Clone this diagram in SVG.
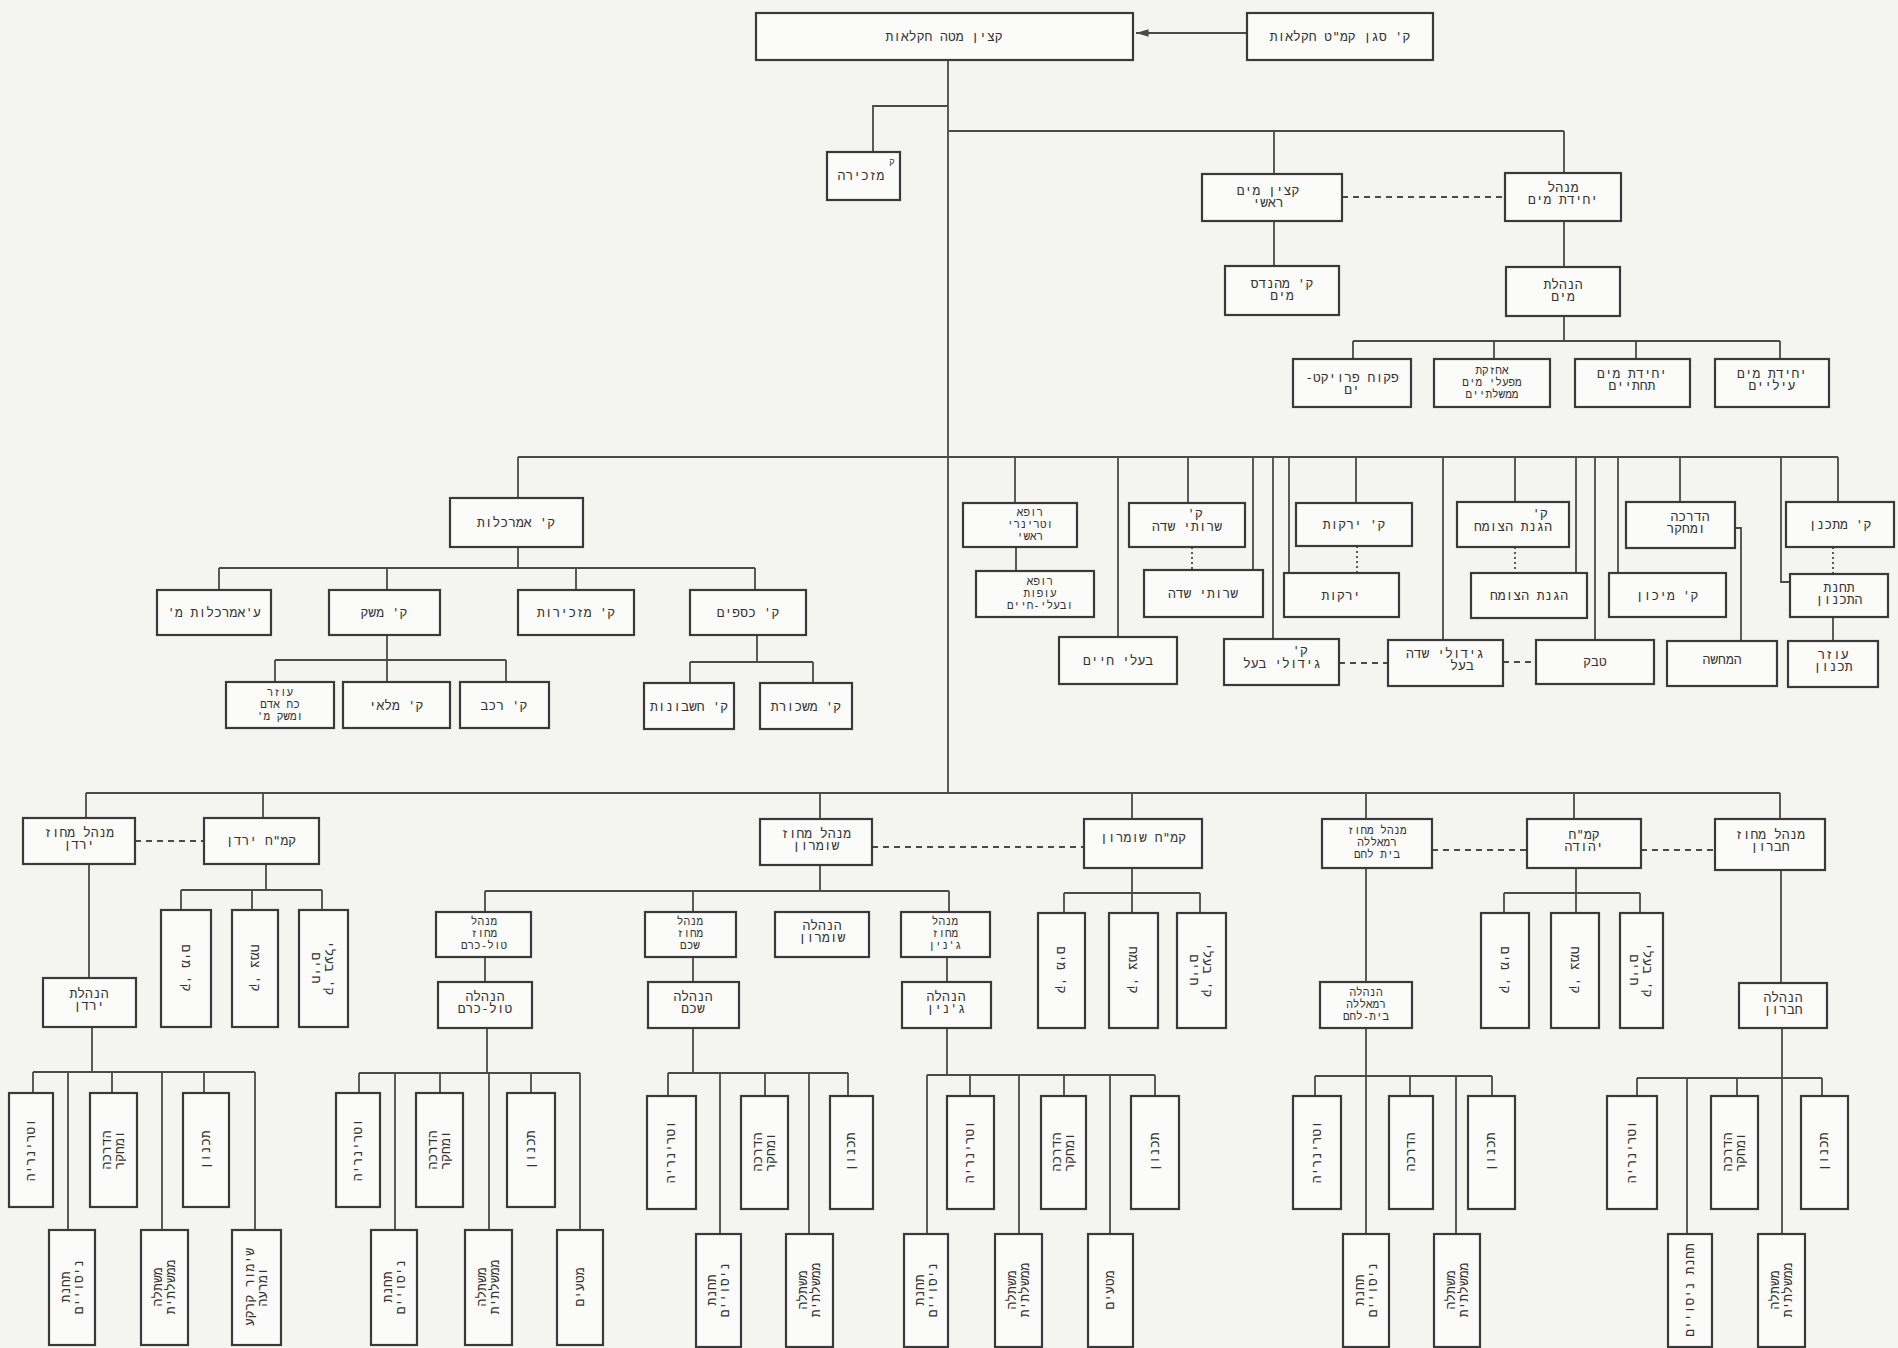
<svg xmlns="http://www.w3.org/2000/svg" width="1898" height="1348" viewBox="0 0 1898 1348">
<defs>
<style>
.bg{fill:#f4f4f1}
rect.n{fill:#fbfbf9;stroke:#3a3a3a;stroke-width:2.2}
.c line,.c polyline{stroke:#4a4a4a;stroke-width:1.8;fill:none}
.c .d{stroke-dasharray:6 5}
.c .o{stroke-dasharray:2 3}
text{font-family:"DejaVu Sans Mono","Liberation Mono","DejaVu Sans",monospace;font-size:13px;fill:#333;text-anchor:middle;direction:rtl}
text.s{font-size:9px}
text.t3{font-size:11px}
</style>
<marker id="ah" viewBox="0 0 10 10" refX="10" refY="5" markerWidth="7" markerHeight="7" orient="auto"><path d="M0,2 L10,5 L0,8 z" fill="#4a4a4a"/></marker>
</defs>
<rect class="bg" x="0" y="0" width="1898" height="1348"/>

<g id="connectors" class="c">
<line x1="1247" y1="33" x2="1136" y2="33" marker-end="url(#ah)"/>
<line x1="948" y1="60" x2="948" y2="793"/>
<polyline points="948,106 873,106 873,152"/>
<line x1="948" y1="131" x2="1564" y2="131"/>
<line x1="1274" y1="131" x2="1274" y2="174"/>
<line x1="1564" y1="131" x2="1564" y2="173"/>
<line class="d" x1="1342" y1="197" x2="1505" y2="197"/>
<line x1="1274" y1="221" x2="1274" y2="266"/>
<line x1="1564" y1="221" x2="1564" y2="267"/>
<line x1="1564" y1="316" x2="1564" y2="341"/>
<line x1="1353" y1="341" x2="1780" y2="341"/>
<line x1="1353" y1="341" x2="1353" y2="359"/>
<line x1="1494" y1="341" x2="1494" y2="359"/>
<line x1="1636" y1="341" x2="1636" y2="359"/>
<line x1="1780" y1="341" x2="1780" y2="359"/>

<line x1="518" y1="457" x2="1838" y2="457"/>
<line x1="518" y1="457" x2="518" y2="498"/>
<line x1="1015" y1="457" x2="1015" y2="503"/>
<line x1="1118" y1="457" x2="1118" y2="637"/>
<line x1="1188" y1="457" x2="1188" y2="503"/>
<line x1="1253" y1="457" x2="1253" y2="570"/>
<line x1="1273" y1="457" x2="1273" y2="639"/>
<line x1="1289" y1="457" x2="1289" y2="573"/>
<line x1="1356" y1="457" x2="1356" y2="503"/>
<line x1="1443" y1="457" x2="1443" y2="640"/>
<line x1="1515" y1="457" x2="1515" y2="502"/>
<line x1="1576" y1="457" x2="1576" y2="573"/>
<line x1="1595" y1="457" x2="1595" y2="640"/>
<line x1="1618" y1="457" x2="1618" y2="573"/>
<line x1="1680" y1="457" x2="1680" y2="502"/>
<polyline points="1781,457 1781,582 1790,582"/>
<line x1="1838" y1="457" x2="1838" y2="502"/>

<line x1="518" y1="547" x2="518" y2="568"/>
<line x1="219" y1="568" x2="755" y2="568"/>
<line x1="219" y1="568" x2="219" y2="590"/>
<line x1="387" y1="568" x2="387" y2="590"/>
<line x1="576" y1="568" x2="576" y2="590"/>
<line x1="755" y1="568" x2="755" y2="590"/>
<line x1="387" y1="635" x2="387" y2="682"/>
<line x1="275" y1="660" x2="506" y2="660"/>
<line x1="275" y1="660" x2="275" y2="682"/>
<line x1="506" y1="660" x2="506" y2="682"/>
<line x1="757" y1="635" x2="757" y2="662"/>
<line x1="690" y1="662" x2="813" y2="662"/>
<line x1="690" y1="662" x2="690" y2="683"/>
<line x1="813" y1="662" x2="813" y2="683"/>

<line x1="1016" y1="547" x2="1016" y2="571"/>
<line class="o" x1="1192" y1="547" x2="1192" y2="570"/>
<line class="o" x1="1357" y1="546" x2="1357" y2="573"/>
<line class="d" x1="1339" y1="663" x2="1388" y2="663"/>
<line class="o" x1="1515" y1="547" x2="1515" y2="573"/>
<line class="d" x1="1503" y1="662" x2="1536" y2="662"/>
<polyline points="1735,528 1741,528 1741,641"/>
<line class="o" x1="1833" y1="547" x2="1833" y2="574"/>
<line x1="1833" y1="617" x2="1833" y2="641"/>

<line x1="86" y1="793" x2="1780" y2="793"/>
<line x1="86" y1="793" x2="86" y2="818"/>
<line x1="263" y1="793" x2="263" y2="818"/>
<line x1="820" y1="793" x2="820" y2="819"/>
<line x1="1132" y1="793" x2="1132" y2="819"/>
<line x1="1366" y1="793" x2="1366" y2="819"/>
<line x1="1574" y1="793" x2="1574" y2="819"/>
<line x1="1780" y1="793" x2="1780" y2="819"/>

<line class="d" x1="135" y1="841" x2="204" y2="841"/>
<line x1="89" y1="864" x2="89" y2="978"/>
<line x1="266" y1="864" x2="266" y2="890"/>
<line x1="181" y1="890" x2="322" y2="890"/>
<line x1="181" y1="890" x2="181" y2="910"/>
<line x1="252" y1="890" x2="252" y2="910"/>
<line x1="322" y1="890" x2="322" y2="910"/>
<line x1="92" y1="1027" x2="92" y2="1072"/>
<line x1="33" y1="1072" x2="255" y2="1072"/>
<line x1="33" y1="1072" x2="33" y2="1093"/>
<line x1="112" y1="1072" x2="112" y2="1093"/>
<line x1="204" y1="1072" x2="204" y2="1093"/>
<line x1="68" y1="1072" x2="68" y2="1230"/>
<line x1="162" y1="1072" x2="162" y2="1230"/>
<line x1="255" y1="1072" x2="255" y2="1230"/>

<line class="d" x1="872" y1="847" x2="1084" y2="847"/>
<line x1="820" y1="865" x2="820" y2="891"/>
<line x1="485" y1="891" x2="949" y2="891"/>
<line x1="485" y1="891" x2="485" y2="912"/>
<line x1="693" y1="891" x2="693" y2="912"/>
<line x1="949" y1="891" x2="949" y2="912"/>
<line x1="485" y1="957" x2="485" y2="982"/>
<line x1="693" y1="957" x2="693" y2="982"/>
<line x1="947" y1="957" x2="947" y2="982"/>
<line x1="1132" y1="868" x2="1132" y2="893"/>
<line x1="1064" y1="893" x2="1200" y2="893"/>
<line x1="1064" y1="893" x2="1064" y2="913"/>
<line x1="1132" y1="893" x2="1132" y2="913"/>
<line x1="1200" y1="893" x2="1200" y2="913"/>

<line x1="487" y1="1028" x2="487" y2="1073"/>
<line x1="359" y1="1073" x2="580" y2="1073"/>
<line x1="359" y1="1073" x2="359" y2="1093"/>
<line x1="440" y1="1073" x2="440" y2="1093"/>
<line x1="531" y1="1073" x2="531" y2="1093"/>
<line x1="395" y1="1073" x2="395" y2="1230"/>
<line x1="489" y1="1073" x2="489" y2="1230"/>
<line x1="580" y1="1073" x2="580" y2="1230"/>

<line x1="693" y1="1028" x2="693" y2="1073"/>
<line x1="668" y1="1073" x2="848" y2="1073"/>
<line x1="668" y1="1073" x2="668" y2="1096"/>
<line x1="765" y1="1073" x2="765" y2="1096"/>
<line x1="848" y1="1073" x2="848" y2="1096"/>
<line x1="720" y1="1073" x2="720" y2="1234"/>
<line x1="809" y1="1073" x2="809" y2="1234"/>

<line x1="947" y1="1028" x2="947" y2="1075"/>
<line x1="927" y1="1075" x2="1155" y2="1075"/>
<line x1="970" y1="1075" x2="970" y2="1096"/>
<line x1="1064" y1="1075" x2="1064" y2="1096"/>
<line x1="1155" y1="1075" x2="1155" y2="1096"/>
<line x1="927" y1="1075" x2="927" y2="1234"/>
<line x1="1019" y1="1075" x2="1019" y2="1234"/>
<line x1="1110" y1="1075" x2="1110" y2="1234"/>

<line class="d" x1="1432" y1="850" x2="1527" y2="850"/>
<line class="d" x1="1641" y1="850" x2="1715" y2="850"/>
<line x1="1366" y1="868" x2="1366" y2="982"/>
<line x1="1576" y1="868" x2="1576" y2="893"/>
<line x1="1504" y1="893" x2="1640" y2="893"/>
<line x1="1504" y1="893" x2="1504" y2="913"/>
<line x1="1576" y1="893" x2="1576" y2="913"/>
<line x1="1640" y1="893" x2="1640" y2="913"/>
<line x1="1781" y1="870" x2="1781" y2="983"/>

<line x1="1366" y1="1028" x2="1366" y2="1234"/>
<line x1="1315" y1="1076" x2="1492" y2="1076"/>
<line x1="1315" y1="1076" x2="1315" y2="1096"/>
<line x1="1410" y1="1076" x2="1410" y2="1096"/>
<line x1="1492" y1="1076" x2="1492" y2="1096"/>
<line x1="1456" y1="1076" x2="1456" y2="1234"/>

<line x1="1782" y1="1028" x2="1782" y2="1234"/>
<line x1="1637" y1="1078" x2="1822" y2="1078"/>
<line x1="1637" y1="1078" x2="1637" y2="1096"/>
<line x1="1737" y1="1078" x2="1737" y2="1096"/>
<line x1="1822" y1="1078" x2="1822" y2="1096"/>
<line x1="1687" y1="1078" x2="1687" y2="1234"/>
</g>

<g id="n-kmt"><rect class="n" x="756" y="13" width="377" height="47"/><text x="944" y="41">קצין מטה חקלאות</text></g>
<g id="n-sgan"><rect class="n" x="1247" y="13" width="186" height="47"/><text x="1340" y="41">ק' סגן קמ"ט חקלאות</text></g>
<g id="n-mazkira"><rect class="n" x="827" y="152" width="73" height="48"/><text class="s" x="892" y="164">ק</text><text x="861" y="180">מזכירה</text></g>
<g id="n-kmr"><rect class="n" x="1202" y="174" width="140" height="47"/><text x="1268" y="195">קצין מים<tspan x="1268" dy="12">ראשי</tspan></text></g>
<g id="n-myh"><rect class="n" x="1505" y="173" width="116" height="48"/><text x="1563" y="192">מנהל<tspan x="1563" dy="12">יחידת מים</tspan></text></g>
<g id="n-mhnds"><rect class="n" x="1225" y="266" width="114" height="49"/><text x="1282" y="288">ק' מהנדס<tspan x="1282" dy="12">מים</tspan></text></g>
<g id="n-hnhm"><rect class="n" x="1506" y="267" width="114" height="49"/><text x="1563" y="289">הנהלת<tspan x="1563" dy="12">מים</tspan></text></g>
<g id="n-pkuh"><rect class="n" x="1293" y="359" width="118" height="48"/><text x="1352" y="382">פקוח פרויקט-<tspan x="1352" dy="12">ים</tspan></text></g>
<g id="n-ahzaka"><rect class="n" x="1434" y="359" width="116" height="48"/><text class="t3" x="1492" y="374">אחזקת<tspan x="1492" dy="12">מפעלי מים</tspan><tspan x="1492" dy="12">ממשלתיים</tspan></text></g>
<g id="n-tahtiim"><rect class="n" x="1575" y="359" width="115" height="48"/><text x="1632" y="378">יחידת מים<tspan x="1632" dy="12">תחתיים</tspan></text></g>
<g id="n-iliim"><rect class="n" x="1715" y="359" width="114" height="48"/><text x="1772" y="378">יחידת מים<tspan x="1772" dy="12">עיליים</tspan></text></g>

<g id="n-amar"><rect class="n" x="450" y="498" width="133" height="49"/><text x="516" y="527">ק' אמרכלות</text></g>
<g id="n-ozamar"><rect class="n" x="157" y="590" width="114" height="45"/><text x="214" y="617">ע'אמרכלות מ'</text></g>
<g id="n-meshek"><rect class="n" x="329" y="590" width="111" height="45"/><text x="384" y="617">ק' משק</text></g>
<g id="n-mazkirut"><rect class="n" x="518" y="590" width="116" height="45"/><text x="576" y="617">ק' מזכירות</text></g>
<g id="n-ksafim"><rect class="n" x="690" y="590" width="116" height="45"/><text x="748" y="617">ק' כספים</text></g>
<g id="n-koah"><rect class="n" x="226" y="682" width="108" height="46"/><text class="t3" x="280" y="696">עוזר<tspan x="280" dy="12">כח אדם</tspan><tspan x="280" dy="12">ומשק מ'</tspan></text></g>
<g id="n-melai"><rect class="n" x="343" y="682" width="107" height="46"/><text x="396" y="710">ק' מלאי</text></g>
<g id="n-rehev"><rect class="n" x="460" y="682" width="89" height="46"/><text x="504" y="710">ק' רכב</text></g>
<g id="n-heshb"><rect class="n" x="644" y="683" width="90" height="46"/><text x="689" y="711">ק' חשבונות</text></g>
<g id="n-maskoret"><rect class="n" x="760" y="683" width="92" height="46"/><text x="806" y="711">ק' משכורת</text></g>

<g id="n-vet"><rect class="n" x="963" y="503" width="114" height="44"/><text class="t3" x="1030" y="516">רופא<tspan x="1030" dy="12">וטרינרי</tspan><tspan x="1030" dy="12">ראשי</tspan></text></g>
<g id="n-ofot"><rect class="n" x="976" y="571" width="118" height="46"/><text class="t3" x="1040" y="585">רופא<tspan x="1040" dy="12">עופות</tspan><tspan x="1040" dy="12">ובעלי-חיים</tspan></text></g>
<g id="n-baalei"><rect class="n" x="1059" y="637" width="118" height="47"/><text x="1118" y="665">בעלי חיים</text></g>
<g id="n-ksherut"><rect class="n" x="1129" y="503" width="116" height="44"/><text x="1195" y="518">ק'<tspan x="1187" dy="13">שרותי שדה</tspan></text></g>
<g id="n-sherut"><rect class="n" x="1144" y="570" width="119" height="47"/><text x="1203" y="598">שרותי שדה</text></g>
<g id="n-kgidul"><rect class="n" x="1224" y="639" width="115" height="46"/><text x="1300" y="655">ק'<tspan x="1282" dy="13">גידולי בעל</tspan></text></g>
<g id="n-kyerakot"><rect class="n" x="1296" y="503" width="116" height="43"/><text x="1354" y="529">ק' ירקות</text></g>
<g id="n-yerakot"><rect class="n" x="1284" y="573" width="115" height="44"/><text x="1341" y="600">ירקות</text></g>
<g id="n-gidul"><rect class="n" x="1388" y="640" width="115" height="46"/><text x="1445" y="658">גידולי שדה<tspan x="1462" dy="12">בעל</tspan></text></g>
<g id="n-khagana"><rect class="n" x="1457" y="502" width="112" height="45"/><text x="1540" y="518">ק'<tspan x="1513" dy="13">הגנת הצומח</tspan></text></g>
<g id="n-hagana"><rect class="n" x="1471" y="573" width="116" height="45"/><text x="1529" y="600">הגנת הצומח</text></g>
<g id="n-tabak"><rect class="n" x="1536" y="640" width="118" height="44"/><text x="1595" y="666">טבק</text></g>
<g id="n-hadraha"><rect class="n" x="1626" y="502" width="109" height="46"/><text x="1690" y="521">הדרכה<tspan x="1686" dy="12">ומחקר</tspan></text></g>
<g id="n-mihun"><rect class="n" x="1609" y="573" width="117" height="44"/><text x="1667" y="600">ק' מיכון</text></g>
<g id="n-hamhasha"><rect class="n" x="1667" y="641" width="110" height="45"/><text x="1722" y="664">המחשה</text></g>
<g id="n-metaknen"><rect class="n" x="1786" y="502" width="108" height="45"/><text x="1840" y="529">ק' מתכנן</text></g>
<g id="n-tahana"><rect class="n" x="1790" y="574" width="98" height="43"/><text x="1839" y="592">תחנת<tspan x="1839" dy="12">התכנון</tspan></text></g>
<g id="n-oztihnun"><rect class="n" x="1788" y="641" width="90" height="46"/><text x="1833" y="659">עוזר<tspan x="1833" dy="12">תכנון</tspan></text></g>

<g id="n-mm-yarden"><rect class="n" x="23" y="818" width="112" height="46"/><text x="79" y="837">מנהל מחוז<tspan x="79" dy="12">ירדן</tspan></text></g>
<g id="n-kmh-yarden"><rect class="n" x="204" y="818" width="115" height="46"/><text x="261" y="845">קמ"ח ירדן</text></g>
<g id="n-hn-yarden"><rect class="n" x="43" y="978" width="93" height="49"/><text x="89" y="998">הנהלת<tspan x="89" dy="12">ירדן</tspan></text></g>
<g id="n-mm-shomron"><rect class="n" x="760" y="819" width="112" height="46"/><text x="816" y="838">מנהל מחוז<tspan x="816" dy="12">שומרון</tspan></text></g>
<g id="n-kmh-shomron"><rect class="n" x="1084" y="819" width="118" height="49"/><text x="1143" y="842">קמ"ח שומרון</text></g>
<g id="n-mm-tulkarem"><rect class="n" x="436" y="912" width="95" height="45"/><text class="t3" x="484" y="925">מנהל<tspan x="484" dy="12">מחוז</tspan><tspan x="484" dy="12">טול-כרם</tspan></text></g>
<g id="n-mm-shechem"><rect class="n" x="645" y="912" width="91" height="45"/><text class="t3" x="690" y="925">מנהל<tspan x="690" dy="12">מחוז</tspan><tspan x="690" dy="12">שכם</tspan></text></g>
<g id="n-hn-shomron"><rect class="n" x="775" y="912" width="94" height="45"/><text x="822" y="930">הנהלה<tspan x="822" dy="12">שומרון</tspan></text></g>
<g id="n-mm-jenin"><rect class="n" x="901" y="912" width="89" height="45"/><text class="t3" x="945" y="925">מנהל<tspan x="945" dy="12">מחוז</tspan><tspan x="945" dy="12">ג'נין</tspan></text></g>
<g id="n-hn-tulkarem"><rect class="n" x="438" y="982" width="94" height="46"/><text x="485" y="1001">הנהלה<tspan x="485" dy="12">טול-כרם</tspan></text></g>
<g id="n-hn-shechem"><rect class="n" x="648" y="982" width="91" height="46"/><text x="693" y="1001">הנהלה<tspan x="693" dy="12">שכם</tspan></text></g>
<g id="n-hn-jenin"><rect class="n" x="902" y="982" width="89" height="46"/><text x="946" y="1001">הנהלה<tspan x="946" dy="12">ג'נין</tspan></text></g>
<g id="n-mm-ramallah"><rect class="n" x="1322" y="819" width="110" height="49"/><text class="t3" x="1377" y="834">מנהל מחוז<tspan x="1377" dy="12">רמאללה</tspan><tspan x="1377" dy="12">בית לחם</tspan></text></g>
<g id="n-kmh-yehuda"><rect class="n" x="1527" y="819" width="114" height="49"/><text x="1584" y="839">קמ"ח<tspan x="1584" dy="12">יהודה</tspan></text></g>
<g id="n-mm-hevron"><rect class="n" x="1715" y="819" width="110" height="51"/><text x="1770" y="839">מנהל מחוז<tspan x="1770" dy="12">חברון</tspan></text></g>
<g id="n-hn-ramallah"><rect class="n" x="1320" y="982" width="92" height="46"/><text class="t3" x="1366" y="996">הנהלה<tspan x="1366" dy="12">רמאללה</tspan><tspan x="1366" dy="12">בית-לחם</tspan></text></g>
<g id="n-hn-hevron"><rect class="n" x="1739" y="983" width="88" height="45"/><text x="1783" y="1002">הנהלה<tspan x="1783" dy="12">חברון</tspan></text></g>

<g id="n-y-mayim"><rect class="n" x="161" y="910" width="50" height="117"/><text transform="translate(186,968) rotate(90)" y="4">ק' מים</text></g>
<g id="n-y-tzemah"><rect class="n" x="232" y="910" width="46" height="117"/><text transform="translate(255,968) rotate(90)" y="4">ק' צמח</text></g>
<g id="n-y-baal"><rect class="n" x="299" y="910" width="49" height="117"/><text transform="translate(323,968) rotate(90)" y="-2">ק' בעלי<tspan x="0" dy="13">חיים</tspan></text></g>
<g id="n-s-mayim"><rect class="n" x="1038" y="913" width="47" height="115"/><text transform="translate(1061,970) rotate(90)" y="4">ק' מים</text></g>
<g id="n-s-tzemah"><rect class="n" x="1109" y="913" width="49" height="115"/><text transform="translate(1133,970) rotate(90)" y="4">ק' צמח</text></g>
<g id="n-s-baal"><rect class="n" x="1177" y="913" width="49" height="115"/><text transform="translate(1201,970) rotate(90)" y="-2">ק' בעלי<tspan x="0" dy="13">חיים</tspan></text></g>
<g id="n-j-mayim"><rect class="n" x="1481" y="913" width="48" height="115"/><text transform="translate(1505,970) rotate(90)" y="4">ק' מים</text></g>
<g id="n-j-tzemah"><rect class="n" x="1551" y="913" width="48" height="115"/><text transform="translate(1575,970) rotate(90)" y="4">ק' צמח</text></g>
<g id="n-j-baal"><rect class="n" x="1620" y="913" width="43" height="115"/><text transform="translate(1641,970) rotate(90)" y="-2">ק' בעלי<tspan x="0" dy="13">חיים</tspan></text></g>

<g id="n-yr-vet"><rect class="n" x="9" y="1093" width="44" height="114"/><text transform="translate(31,1150) rotate(-90)" y="4">וטרינריה</text></g>
<g id="n-yr-hadr"><rect class="n" x="90" y="1093" width="47" height="114"/><text transform="translate(113,1150) rotate(-90)" y="-2">הדרכה<tspan x="0" dy="13">ומחקר</tspan></text></g>
<g id="n-yr-tihnun"><rect class="n" x="183" y="1093" width="46" height="114"/><text transform="translate(206,1150) rotate(-90)" y="4">תכנון</text></g>
<g id="n-yr-l1"><rect class="n" x="49" y="1230" width="46" height="115"/><text transform="translate(72,1287) rotate(-90)" y="-2">תחנת<tspan x="0" dy="13">ניסויים</tspan></text></g>
<g id="n-yr-l2"><rect class="n" x="141" y="1230" width="47" height="115"/><text transform="translate(164,1287) rotate(-90)" y="-2">משתלה<tspan x="0" dy="13">ממשלתית</tspan></text></g>
<g id="n-yr-l3"><rect class="n" x="232" y="1230" width="49" height="115"/><text transform="translate(256,1287) rotate(-90)" y="-2">שימור קרקע<tspan x="0" dy="13">ומרעה</tspan></text></g>

<g id="n-tk-vet"><rect class="n" x="336" y="1093" width="44" height="114"/><text transform="translate(358,1150) rotate(-90)" y="4">וטרינריה</text></g>
<g id="n-tk-hadr"><rect class="n" x="416" y="1093" width="47" height="114"/><text transform="translate(439,1150) rotate(-90)" y="-2">הדרכה<tspan x="0" dy="13">ומחקר</tspan></text></g>
<g id="n-tk-tihnun"><rect class="n" x="507" y="1093" width="48" height="114"/><text transform="translate(531,1150) rotate(-90)" y="4">תכנון</text></g>
<g id="n-tk-l1"><rect class="n" x="371" y="1230" width="46" height="115"/><text transform="translate(394,1287) rotate(-90)" y="-2">תחנת<tspan x="0" dy="13">ניסויים</tspan></text></g>
<g id="n-tk-l2"><rect class="n" x="465" y="1230" width="47" height="115"/><text transform="translate(488,1287) rotate(-90)" y="-2">משתלה<tspan x="0" dy="13">ממשלתית</tspan></text></g>
<g id="n-tk-l3"><rect class="n" x="557" y="1230" width="46" height="115"/><text transform="translate(580,1287) rotate(-90)" y="4">מטעים</text></g>

<g id="n-sh-vet"><rect class="n" x="647" y="1096" width="49" height="113"/><text transform="translate(671,1152) rotate(-90)" y="4">וטרינריה</text></g>
<g id="n-sh-hadr"><rect class="n" x="741" y="1096" width="47" height="113"/><text transform="translate(764,1152) rotate(-90)" y="-2">הדרכה<tspan x="0" dy="13">ומחקר</tspan></text></g>
<g id="n-sh-tihnun"><rect class="n" x="830" y="1096" width="43" height="113"/><text transform="translate(851,1152) rotate(-90)" y="4">תכנון</text></g>
<g id="n-sh-l1"><rect class="n" x="696" y="1234" width="45" height="113"/><text transform="translate(718,1290) rotate(-90)" y="-2">תחנת<tspan x="0" dy="13">ניסויים</tspan></text></g>
<g id="n-sh-l2"><rect class="n" x="786" y="1234" width="47" height="113"/><text transform="translate(809,1290) rotate(-90)" y="-2">משתלה<tspan x="0" dy="13">ממשלתית</tspan></text></g>

<g id="n-jn-vet"><rect class="n" x="947" y="1096" width="47" height="113"/><text transform="translate(970,1152) rotate(-90)" y="4">וטרינריה</text></g>
<g id="n-jn-hadr"><rect class="n" x="1041" y="1096" width="45" height="113"/><text transform="translate(1063,1152) rotate(-90)" y="-2">הדרכה<tspan x="0" dy="13">ומחקר</tspan></text></g>
<g id="n-jn-tihnun"><rect class="n" x="1131" y="1096" width="48" height="113"/><text transform="translate(1155,1152) rotate(-90)" y="4">תכנון</text></g>
<g id="n-jn-l1"><rect class="n" x="904" y="1234" width="44" height="113"/><text transform="translate(926,1290) rotate(-90)" y="-2">תחנת<tspan x="0" dy="13">ניסויים</tspan></text></g>
<g id="n-jn-l2"><rect class="n" x="995" y="1234" width="47" height="113"/><text transform="translate(1018,1290) rotate(-90)" y="-2">משתלה<tspan x="0" dy="13">ממשלתית</tspan></text></g>
<g id="n-jn-l3"><rect class="n" x="1088" y="1234" width="45" height="113"/><text transform="translate(1110,1290) rotate(-90)" y="4">מטעים</text></g>

<g id="n-rm-vet"><rect class="n" x="1293" y="1096" width="48" height="113"/><text transform="translate(1317,1152) rotate(-90)" y="4">וטרינריה</text></g>
<g id="n-rm-hadr"><rect class="n" x="1389" y="1096" width="44" height="113"/><text transform="translate(1411,1152) rotate(-90)" y="4">הדרכה</text></g>
<g id="n-rm-tihnun"><rect class="n" x="1468" y="1096" width="47" height="113"/><text transform="translate(1491,1152) rotate(-90)" y="4">תכנון</text></g>
<g id="n-rm-l1"><rect class="n" x="1343" y="1234" width="46" height="113"/><text transform="translate(1366,1290) rotate(-90)" y="-2">תחנת<tspan x="0" dy="13">ניסויים</tspan></text></g>
<g id="n-rm-l2"><rect class="n" x="1434" y="1234" width="46" height="113"/><text transform="translate(1457,1290) rotate(-90)" y="-2">משתלה<tspan x="0" dy="13">ממשלתית</tspan></text></g>

<g id="n-hv-vet"><rect class="n" x="1607" y="1096" width="50" height="113"/><text transform="translate(1632,1152) rotate(-90)" y="4">וטרינריה</text></g>
<g id="n-hv-hadr"><rect class="n" x="1711" y="1096" width="47" height="113"/><text transform="translate(1734,1152) rotate(-90)" y="-2">הדרכה<tspan x="0" dy="13">ומחקר</tspan></text></g>
<g id="n-hv-tihnun"><rect class="n" x="1801" y="1096" width="47" height="113"/><text transform="translate(1824,1152) rotate(-90)" y="4">תכנון</text></g>
<g id="n-hv-l1"><rect class="n" x="1668" y="1234" width="44" height="113"/><text transform="translate(1690,1290) rotate(-90)" y="4">תחנת ניסויים</text></g>
<g id="n-hv-l2"><rect class="n" x="1758" y="1234" width="47" height="113"/><text transform="translate(1781,1290) rotate(-90)" y="-2">משתלה<tspan x="0" dy="13">ממשלתית</tspan></text></g>
</svg>
